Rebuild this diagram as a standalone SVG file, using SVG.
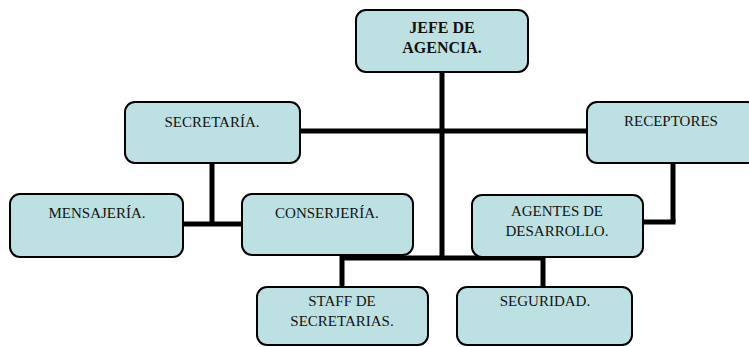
<svg xmlns="http://www.w3.org/2000/svg" width="749" height="347" viewBox="0 0 749 347">
<style>
.box{fill:#bde1e2;stroke:#000;stroke-width:2}
text{font-family:'Liberation Serif','Times New Roman',Times,serif;font-size:15px;text-anchor:middle;fill:#111}
.b{font-weight:bold;font-size:16px}
.c{stroke:#000;stroke-width:5;fill:none}
</style>
<rect width="749" height="347" fill="#fff"/>
<g id="connectors">
<line class="c" x1="442" y1="72" x2="442" y2="260"/>
<line class="c" x1="300" y1="131" x2="587" y2="131"/>
<line class="c" x1="212" y1="163" x2="212" y2="224"/>
<line class="c" x1="183" y1="224" x2="242" y2="224"/>
<line class="c" x1="673" y1="163" x2="673" y2="222"/>
<line class="c" x1="643" y1="222" x2="675.5" y2="222"/>
<line class="c" x1="340" y1="258" x2="545" y2="258"/>
<line class="c" x1="342" y1="256" x2="342" y2="288"/>
<line class="c" x1="543" y1="256" x2="543" y2="288"/>
</g>
<g id="jefe"><rect class="box" x="356" y="10" width="172" height="62" rx="10"/><text class="b" x="442" y="33">JEFE DE</text><text class="b" x="442" y="53">AGENCIA.</text></g>
<g id="secretaria"><rect class="box" x="125" y="102" width="175" height="61" rx="10"/><text x="212" y="127">SECRETARÍA.</text></g>
<g id="receptores"><rect class="box" x="587" y="102" width="170" height="61" rx="10"/><text x="671" y="126">RECEPTORES</text></g>
<g id="mensajeria"><rect class="box" x="10" y="194" width="173" height="63" rx="10"/><text x="97" y="218">MENSAJERÍA.</text></g>
<g id="conserjeria"><rect class="box" x="242" y="194" width="171" height="61" rx="10"/><text x="327" y="218">CONSERJERÍA.</text></g>
<g id="agentes"><rect class="box" x="472" y="195" width="171" height="62" rx="10"/><text x="557" y="216">AGENTES DE</text><text x="557" y="236">DESARROLLO.</text></g>
<g id="staff"><rect class="box" x="257" y="287" width="171" height="58" rx="10"/><text x="342" y="306">STAFF DE</text><text x="342" y="326">SECRETARIAS.</text></g>
<g id="seguridad"><rect class="box" x="457" y="287" width="175" height="58" rx="10"/><text x="545" y="306">SEGURIDAD.</text></g>
</svg>
